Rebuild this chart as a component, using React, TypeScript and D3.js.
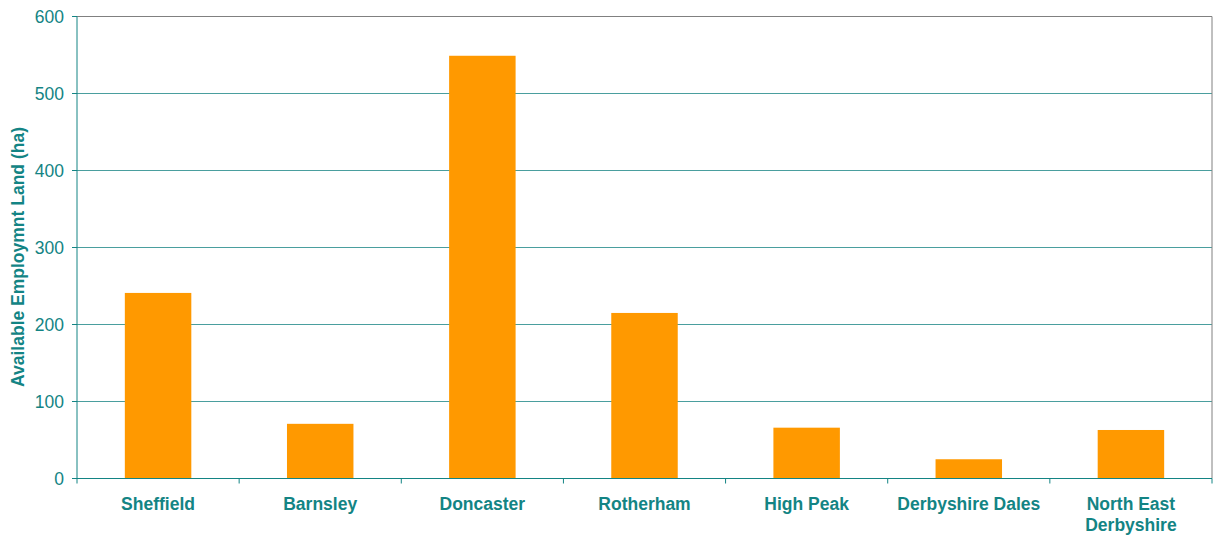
import React from "react";
import * as d3 from "d3";

const categories: string[][] = [
  ["Sheffield"],
  ["Barnsley"],
  ["Doncaster"],
  ["Rotherham"],
  ["High Peak"],
  ["Derbyshire Dales"],
  ["North East", "Derbyshire"],
];
const values: number[] = [241, 71, 549, 215, 66, 25, 63];
const yTicks: number[] = [0, 100, 200, 300, 400, 500, 600];
const yTitle = "Available Employmnt Land (ha)";

const W = 1216;
const H = 537;
const M = { left: 77, right: 4, top: 16.5, bottom: 58.5 };
const TEAL = "#138484";
const GRID = "#4a9e9e";
const FONT = "'Liberation Sans', Arial, sans-serif";

export default function App() {
  const x = d3
    .scaleBand<number>()
    .domain(d3.range(categories.length))
    .range([M.left, W - M.right])
    .paddingInner(0.59)
    .paddingOuter(0.295);
  const y = d3.scaleLinear().domain([0, 600]).range([H - M.bottom, M.top]);
  const step = (W - M.right - M.left) / categories.length;
  const y0 = y(0);

  return (
    <svg width={W} height={H} style={{ position: "absolute", left: 0, top: 0, background: "#fff" }}>
      {yTicks.filter((t) => t > 0 && t < 600).map((t) => (
        <line key={t} x1={M.left} x2={W - M.right} y1={y(t)} y2={y(t)} stroke={GRID} strokeWidth={1} />
      ))}
      <line x1={M.left} x2={W - M.right} y1={y(600)} y2={y(600)} stroke="#808080" strokeWidth={1} />
      <line x1={W - M.right} x2={W - M.right} y1={y(600)} y2={y0} stroke="#808080" strokeWidth={1} />
      {values.map((v, i) => (
        <rect key={i} x={x(i)} y={y(v)} width={x.bandwidth()} height={y0 - y(v)} fill="#FF9900" />
      ))}
      <line x1={M.left} x2={M.left} y1={y(600)} y2={y0} stroke={TEAL} strokeWidth={1} />
      <line x1={M.left} x2={W - M.right} y1={y0} y2={y0} stroke={TEAL} strokeWidth={1} />
      {yTicks.map((t) => (
        <g key={t}>
          <line x1={M.left - 5} x2={M.left} y1={y(t)} y2={y(t)} stroke={TEAL} />
          <text x={M.left - 13} y={y(t)} dy="0.35em" textAnchor="end" fill={TEAL} fontFamily={FONT} fontSize={17.5}>
            {t}
          </text>
        </g>
      ))}
      {d3.range(categories.length + 1).map((i) => (
        <line key={i} x1={M.left + i * step} x2={M.left + i * step} y1={y0} y2={y0 + 5} stroke={TEAL} />
      ))}
      {categories.map((lines, i) => (
        <text key={i} x={(x(i) as number) + x.bandwidth() / 2} y={y0 + 31} textAnchor="middle" fill={TEAL} fontFamily={FONT} fontSize={17.5} fontWeight="bold">
          {lines.map((l, j) => (
            <tspan key={j} x={(x(i) as number) + x.bandwidth() / 2} dy={j === 0 ? 0 : 21}>
              {l}
            </tspan>
          ))}
        </text>
      ))}
      <text transform={`translate(24, 257) rotate(-90)`} textAnchor="middle" fill={TEAL} fontFamily={FONT} fontSize={17.5} fontWeight="bold">
        {yTitle}
      </text>
    </svg>
  );
}
